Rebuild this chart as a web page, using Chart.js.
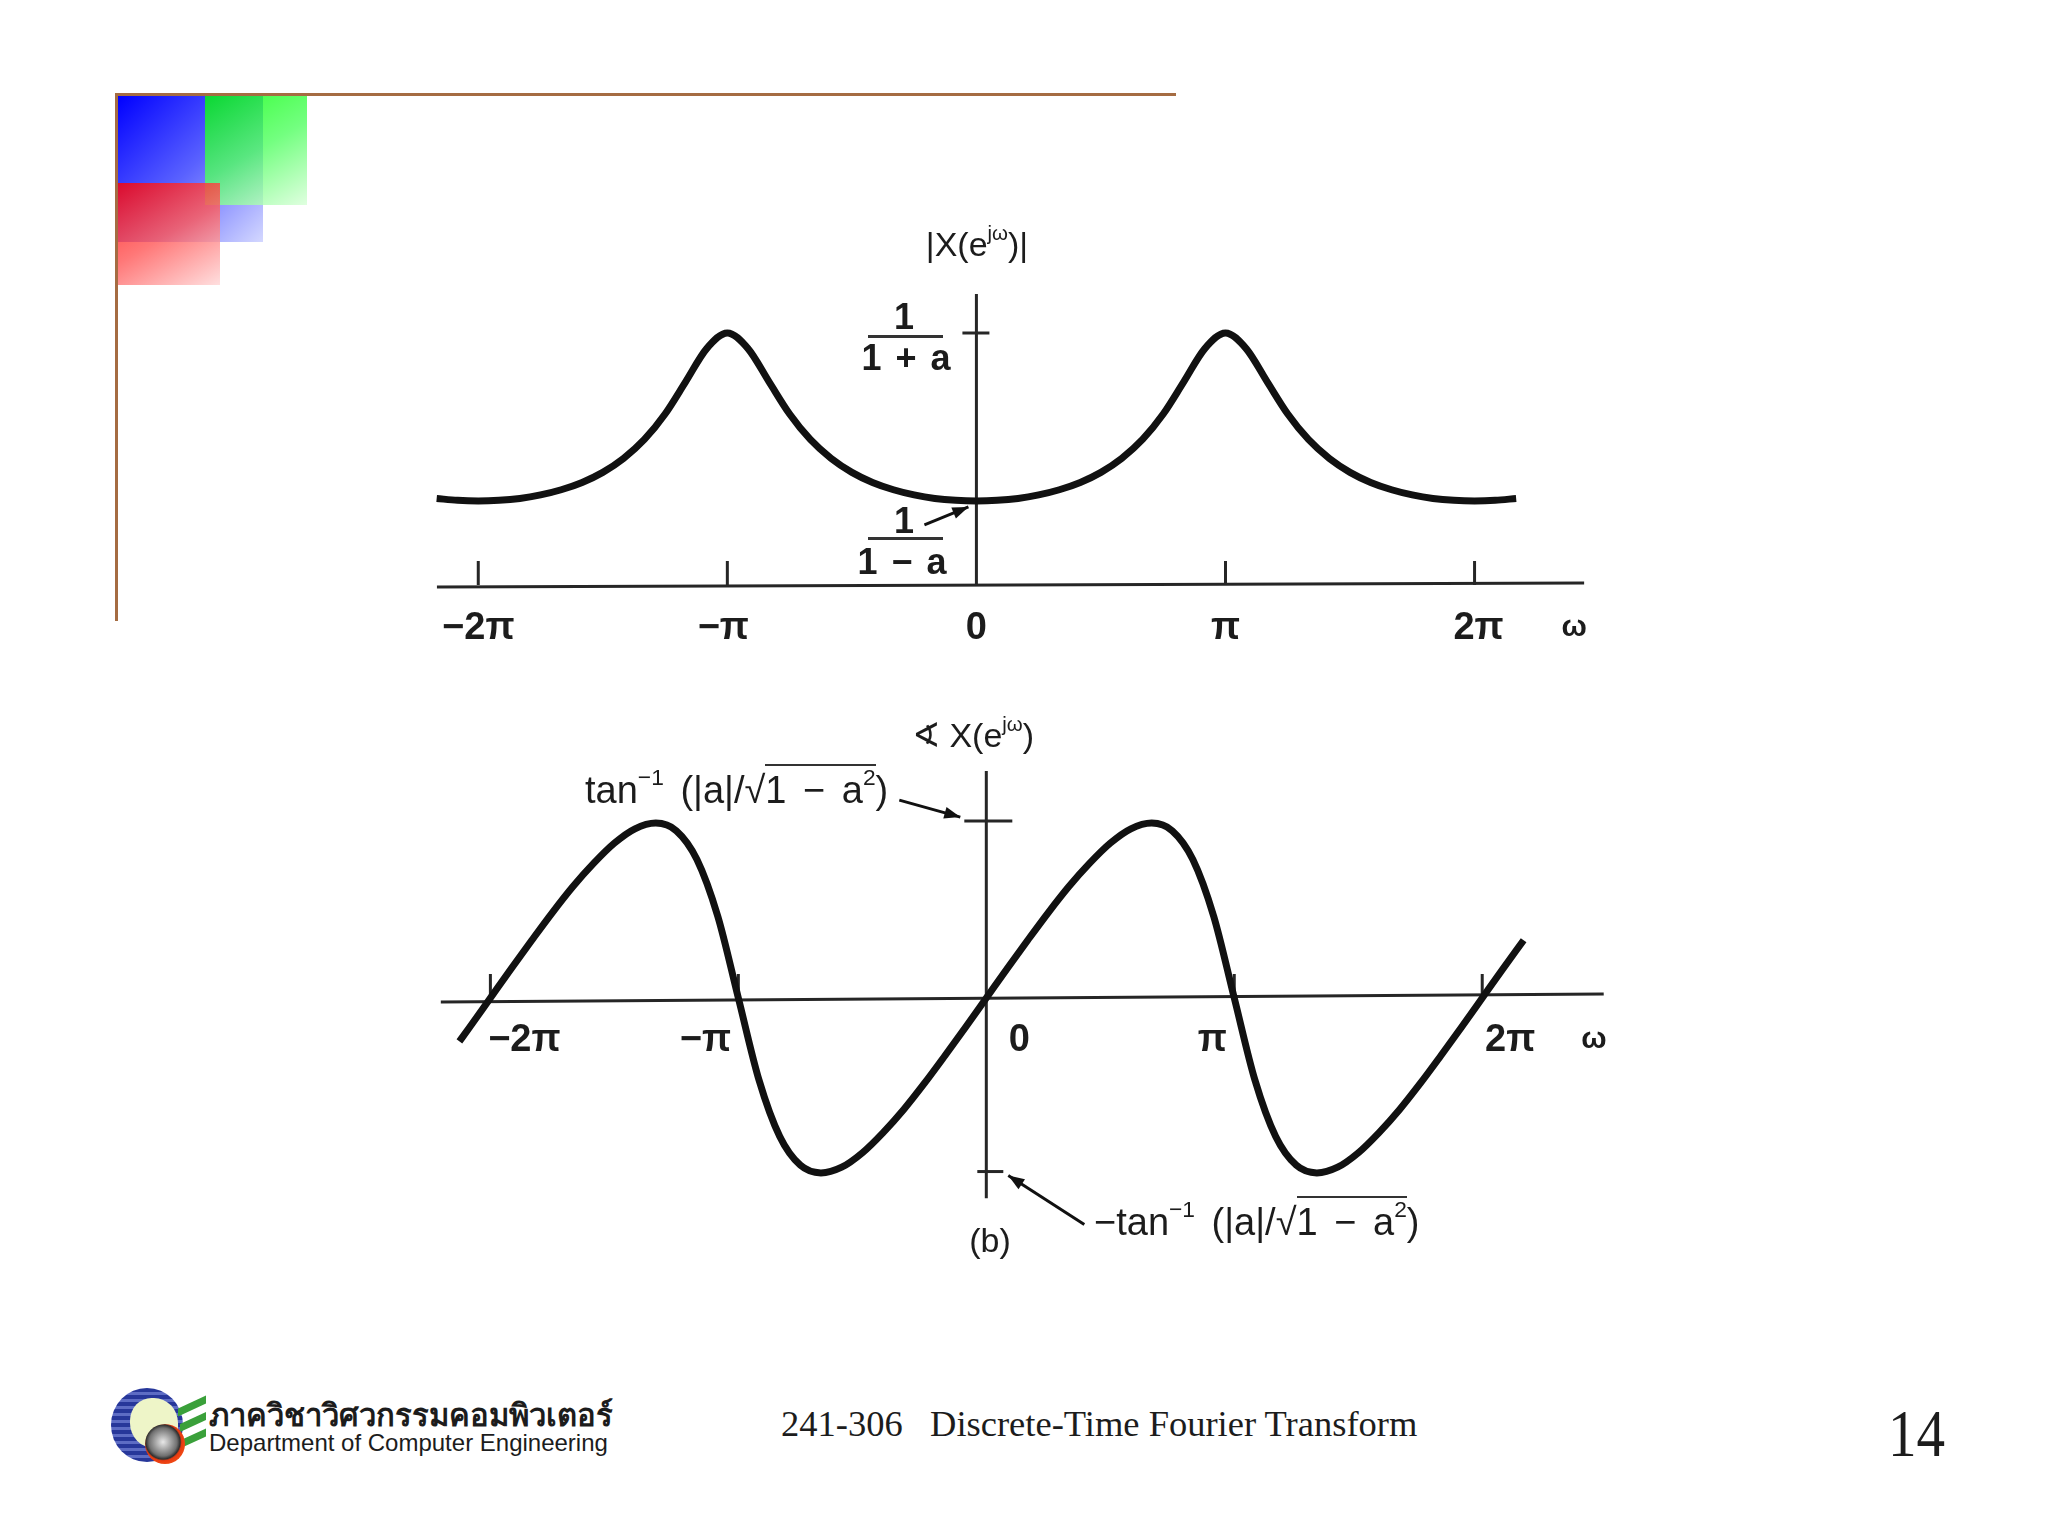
<!DOCTYPE html>
<html>
<head>
<meta charset="utf-8">
<title>241-306 Discrete-Time Fourier Transform</title>
<script src="https://cdn.jsdelivr.net/npm/chart.js@4.4.1/dist/chart.umd.min.js"></script>
<style>
  body { margin:0; width:2048px; height:1535px; background:#fff; position:relative; overflow:hidden;
         font-family:"Liberation Sans", Arial, sans-serif; color:#1c1c1c; }
  .box { position:absolute; }
  .lbl { position:absolute; transform:translate(-50%,-50%); white-space:nowrap; line-height:1; font-size:34px; }
  .left { transform:translate(0,-50%); }
  .b { font-weight:bold; }
  .frac { font-size:36px; word-spacing:4px; }
  .tan { font-size:38px; word-spacing:6px; }
  sup { font-size:0.6em; vertical-align:0.8em; line-height:0; }
  .ov { border-top:2px solid #333; padding-top:3px; }
  .chartbox { position:absolute; }
</style>
</head>
<body>

<!-- decoracion de la diapositiva -->
<div class="box" style="left:116px;top:93px;width:1060px;height:3px;background:#a56c42"></div>
<div class="box" style="left:115px;top:93px;width:3px;height:528px;background:#a56c42"></div>
<div class="box" style="left:118px;top:96px;width:145px;height:146px;background:linear-gradient(135deg,#0000ff 0%,#5a62ff 50%,#d4d8ff 100%)"></div>
<div class="box" style="left:205px;top:96px;width:102px;height:109px;background:linear-gradient(150deg,#00ff00 0%,#50ff60 50%,#d8ffd8 100%);opacity:.8"></div>
<div class="box" style="left:118px;top:183px;width:102px;height:102px;background:linear-gradient(150deg,#ff0000 0%,#ff5a5a 50%,#ffd8d8 100%);opacity:.82"></div>

<!-- grafica de magnitud -->
<div id="magBox" class="chartbox" style="left:416px;top:207px;width:1208px;height:504px"><canvas id="magChart"></canvas></div>
<div class="lbl" style="left:977px;top:244px">|X(e<sup>jω</sup>)|</div>
<div class="lbl b frac" style="left:904px;top:317px">1</div>
<div class="box" style="left:868px;top:335px;width:75px;height:3px;background:#333"></div>
<div class="lbl b frac" style="left:906px;top:358px">1 + a</div>
<div class="lbl b frac" style="left:904px;top:521px">1</div>
<div class="box" style="left:868px;top:537px;width:75px;height:3px;background:#333"></div>
<div class="lbl b frac" style="left:902px;top:562px">1 − a</div>

<!-- grafica de fase -->
<div id="phaseBox" class="chartbox" style="left:416px;top:731px;width:1215px;height:534px"><canvas id="phaseChart"></canvas></div>
<div class="lbl" style="left:973px;top:735px">∢ X(e<sup>jω</sup>)</div>
<div class="lbl left tan" style="left:585px;top:790px">tan<sup>−1</sup> (|a|/√<span class="ov">1 − a<sup>2</sup></span>)</div>
<div class="lbl left tan" style="left:1094px;top:1222px">−tan<sup>−1</sup> (|a|/√<span class="ov">1 − a<sup>2</sup></span>)</div>
<div class="lbl" style="left:990px;top:1240px">(b)</div>

<!-- pie de pagina -->
<div class="box" style="left:111px;top:1388px;width:72px;height:74px;border-radius:50%;background:repeating-linear-gradient(#27379a 0 4px,#5d6cc4 4px 7px)"></div>
<div class="box" style="left:130px;top:1398px;width:48px;height:50px;border-radius:45% 50% 40% 50%;background:#eef5c8"></div>
<div class="box" style="left:178px;top:1402px;width:28px;height:8px;background:#3aa03a;transform:skewY(-25deg)"></div>
<div class="box" style="left:180px;top:1418px;width:26px;height:8px;background:#3aa03a;transform:skewY(-25deg)"></div>
<div class="box" style="left:182px;top:1434px;width:24px;height:8px;background:#3aa03a;transform:skewY(-25deg)"></div>
<div class="box" style="left:145px;top:1424px;width:40px;height:40px;border-radius:50%;background:radial-gradient(circle at 45% 45%,#e8e8e8 0,#707070 45%,#303030 55%,#e83a10 60%,#ff6a20 100%)"></div>
<div class="box b" style="left:209px;top:1390px;font-size:31px;white-space:nowrap">ภาควิชาวิศวกรรมคอมพิวเตอร์</div>
<div class="box" style="left:209px;top:1429px;font-size:24px;white-space:nowrap">Department of Computer Engineering</div>
<div class="box" style="left:781px;top:1402px;font-family:'Liberation Serif','Times New Roman',serif;font-size:36.5px;white-space:pre">241-306   Discrete-Time Fourier Transform</div>
<div class="box" style="left:1888px;top:1394px;font-family:'Liberation Serif','Times New Roman',serif;font-size:68px;transform:scaleX(0.84);transform-origin:left">14</div>

<script>
// Datos: frecuencia en multiplos de pi
const tickValues = [-2, -1, 0, 1, 2];
const tickLabels = ['−2π', '−π', '0', 'π', '2π'];

const omegaMag = [-2.167, -2.083, -2, -1.917, -1.833, -1.75, -1.667, -1.583, -1.5, -1.417, -1.333, -1.25, -1.167, -1.083,
  -1, -0.917, -0.833, -0.75, -0.667, -0.583, -0.5, -0.417, -0.333, -0.25, -0.167, -0.083,
  0, 0.083, 0.167, 0.25, 0.333, 0.417, 0.5, 0.583, 0.667, 0.75, 0.833, 0.917,
  1, 1.083, 1.167, 1.25, 1.333, 1.417, 1.5, 1.583, 1.667, 1.75, 1.833, 1.917, 2, 2.083, 2.167];
const magnitude = [0.687, 0.672, 0.667, 0.672, 0.687, 0.715, 0.756, 0.814, 0.894, 1.004, 1.155, 1.357, 1.614, 1.876,
  2.0, 1.876, 1.614, 1.357, 1.155, 1.004, 0.894, 0.814, 0.756, 0.715, 0.687, 0.672,
  0.667, 0.672, 0.687, 0.715, 0.756, 0.814, 0.894, 1.004, 1.155, 1.357, 1.614, 1.876,
  2.0, 1.876, 1.614, 1.357, 1.155, 1.004, 0.894, 0.814, 0.756, 0.715, 0.687, 0.672, 0.667, 0.672, 0.687];

const omegaPhase = [-2.125, -2.083, -2, -1.917, -1.833, -1.75, -1.667, -1.583, -1.5, -1.417, -1.333, -1.25, -1.167, -1.083,
  -1, -0.917, -0.833, -0.75, -0.667, -0.583, -0.5, -0.417, -0.333, -0.25, -0.167, -0.083,
  0, 0.083, 0.167, 0.25, 0.333, 0.417, 0.5, 0.583, 0.667, 0.75, 0.833, 0.917,
  1, 1.083, 1.167, 1.25, 1.333, 1.417, 1.5, 1.583, 1.667, 1.75, 1.833, 1.917, 2, 2.083, 2.167];
const phase = [-0.130, -0.087, 0, 0.087, 0.173, 0.256, 0.334, 0.404, 0.464, 0.507, 0.524, 0.501, 0.415, 0.245,
  0, -0.245, -0.415, -0.501, -0.524, -0.507, -0.464, -0.404, -0.334, -0.256, -0.173, -0.087,
  0, 0.087, 0.173, 0.256, 0.334, 0.404, 0.464, 0.507, 0.524, 0.501, 0.415, 0.245,
  0, -0.245, -0.415, -0.501, -0.524, -0.507, -0.464, -0.404, -0.334, -0.256, -0.173, -0.087, 0, 0.087, 0.173];

const axisColor = '#262626';

function line(ctx, x1, y1, x2, y2) {
  ctx.beginPath();
  ctx.moveTo(x1, y1);
  ctx.lineTo(x2, y2);
  ctx.stroke();
}

function arrow(ctx, tx, ty, fx, fy) {
  line(ctx, fx, fy, tx, ty);
  const ang = Math.atan2(ty - fy, tx - fx);
  ctx.beginPath();
  ctx.moveTo(tx, ty);
  ctx.lineTo(tx - 16 * Math.cos(ang) + 6 * Math.sin(ang), ty - 16 * Math.sin(ang) - 6 * Math.cos(ang));
  ctx.lineTo(tx - 16 * Math.cos(ang) - 6 * Math.sin(ang), ty - 16 * Math.sin(ang) + 6 * Math.cos(ang));
  ctx.closePath();
  ctx.fill();
}

function baseOptions(xmin, xmax, ymin, ymax) {
  return {
    responsive: true,
    maintainAspectRatio: false,
    animation: false,
    layout: { padding: 0 },
    plugins: { legend: { display: false }, tooltip: { enabled: false } },
    scales: {
      x: { type: 'linear', min: xmin, max: xmax, display: false },
      y: { min: ymin, max: ymax, display: false }
    },
    elements: {
      point: { radius: 0 },
      line: { borderWidth: 7, borderColor: '#111', cubicInterpolationMode: 'monotone' }
    }
  };
}

// ejes de la grafica de magnitud
const magAxes = {
  id: 'magAxes',
  beforeDatasetsDraw(chart) {
    const { ctx, scales: { x, y } } = chart;
    const x0 = x.getPixelForValue(0), y0 = y.getPixelForValue(0);
    ctx.save();
    ctx.strokeStyle = axisColor;
    ctx.lineWidth = 3;
    line(ctx, x.getPixelForValue(-2.166), y0 + 2, x.getPixelForValue(2.44), y0 - 2);
    tickValues.forEach(v => { if (v !== 0) line(ctx, x.getPixelForValue(v), y0, x.getPixelForValue(v), y0 - 24); });
    line(ctx, x0, y0, x0, y.getPixelForValue(2.31));
    line(ctx, x0 - 14, y.getPixelForValue(2), x0 + 13, y.getPixelForValue(2));
    ctx.restore();
  },
  afterDatasetsDraw(chart) {
    const { ctx, scales: { x, y } } = chart;
    const tx = x.getPixelForValue(0) - 8, ty = y.getPixelForValue(0.667) + 6;
    ctx.save();
    ctx.strokeStyle = '#111';
    ctx.fillStyle = '#111';
    ctx.lineWidth = 3;
    arrow(ctx, tx, ty, tx - 44, ty + 18);
    ctx.restore();
  }
};

// ejes de la grafica de fase
const phaseAxes = {
  id: 'phaseAxes',
  beforeDatasetsDraw(chart) {
    const { ctx, scales: { x, y } } = chart;
    const x0 = x.getPixelForValue(0), y0 = y.getPixelForValue(0);
    ctx.save();
    ctx.strokeStyle = axisColor;
    ctx.lineWidth = 3;
    line(ctx, x.getPixelForValue(-2.2), y0 + 4, x.getPixelForValue(2.49), y0 - 4);
    tickValues.forEach(v => { if (v !== 0) line(ctx, x.getPixelForValue(v), y0, x.getPixelForValue(v), y0 - 24); });
    line(ctx, x0, y.getPixelForValue(0.68), x0, y.getPixelForValue(-0.6));
    line(ctx, x0 - 22, y.getPixelForValue(0.53), x0 + 26, y.getPixelForValue(0.53));
    line(ctx, x0 - 9, y.getPixelForValue(-0.52), x0 + 17, y.getPixelForValue(-0.52));
    ctx.restore();
  },
  afterDatasetsDraw(chart) {
    const { ctx, scales: { x, y } } = chart;
    const x0 = x.getPixelForValue(0);
    ctx.save();
    ctx.strokeStyle = '#111';
    ctx.fillStyle = '#111';
    ctx.lineWidth = 3;
    const t1x = x0 - 26, t1y = y.getPixelForValue(0.53) - 4;
    arrow(ctx, t1x, t1y, t1x - 61, t1y - 17);
    const t2x = x0 + 22, t2y = y.getPixelForValue(-0.52) + 4;
    arrow(ctx, t2x, t2y, t2x + 76, t2y + 49);
    ctx.restore();
  }
};

// etiquetas de los ejes como texto html, colocadas con las escalas de Chart.js
function placeTicks(chart, boxId, shifts, dy, omegaAt) {
  const box = document.getElementById(boxId);
  const x = chart.scales.x, y = chart.scales.y;
  const y0 = y.getPixelForValue(0);
  tickValues.forEach((v, i) => {
    const d = document.createElement('div');
    d.className = 'lbl b';
    d.style.fontSize = '38px';
    d.textContent = tickLabels[i];
    d.style.left = (x.getPixelForValue(v) + shifts[i]) + 'px';
    d.style.top = (y0 + dy) + 'px';
    box.appendChild(d);
  });
  const w = document.createElement('div');
  w.className = 'lbl b';
  w.style.fontSize = '30px';
  w.textContent = 'ω';
  w.style.left = x.getPixelForValue(omegaAt) + 'px';
  w.style.top = (y0 + dy) + 'px';
  box.appendChild(w);
}

const magChart = new Chart(document.getElementById('magChart'), {
  type: 'line',
  data: { datasets: [{ data: omegaMag.map((w, i) => ({ x: w, y: magnitude[i] })) }] },
  options: baseOptions(-2.25, 2.6, -1, 3),
  plugins: [magAxes]
});

const phaseChart = new Chart(document.getElementById('phaseChart'), {
  type: 'line',
  data: { datasets: [{ data: omegaPhase.map((w, i) => ({ x: w, y: phase[i] })) }] },
  options: baseOptions(-2.3, 2.6, -0.8, 0.8),
  plugins: [phaseAxes]
});

placeTicks(magChart, 'magBox', [0, -4, 0, 0, 4], 41, 2.4);
placeTicks(phaseChart, 'phaseBox', [34, -33, 33, -22, 28], 40, 2.45);
</script>
</body>
</html>
